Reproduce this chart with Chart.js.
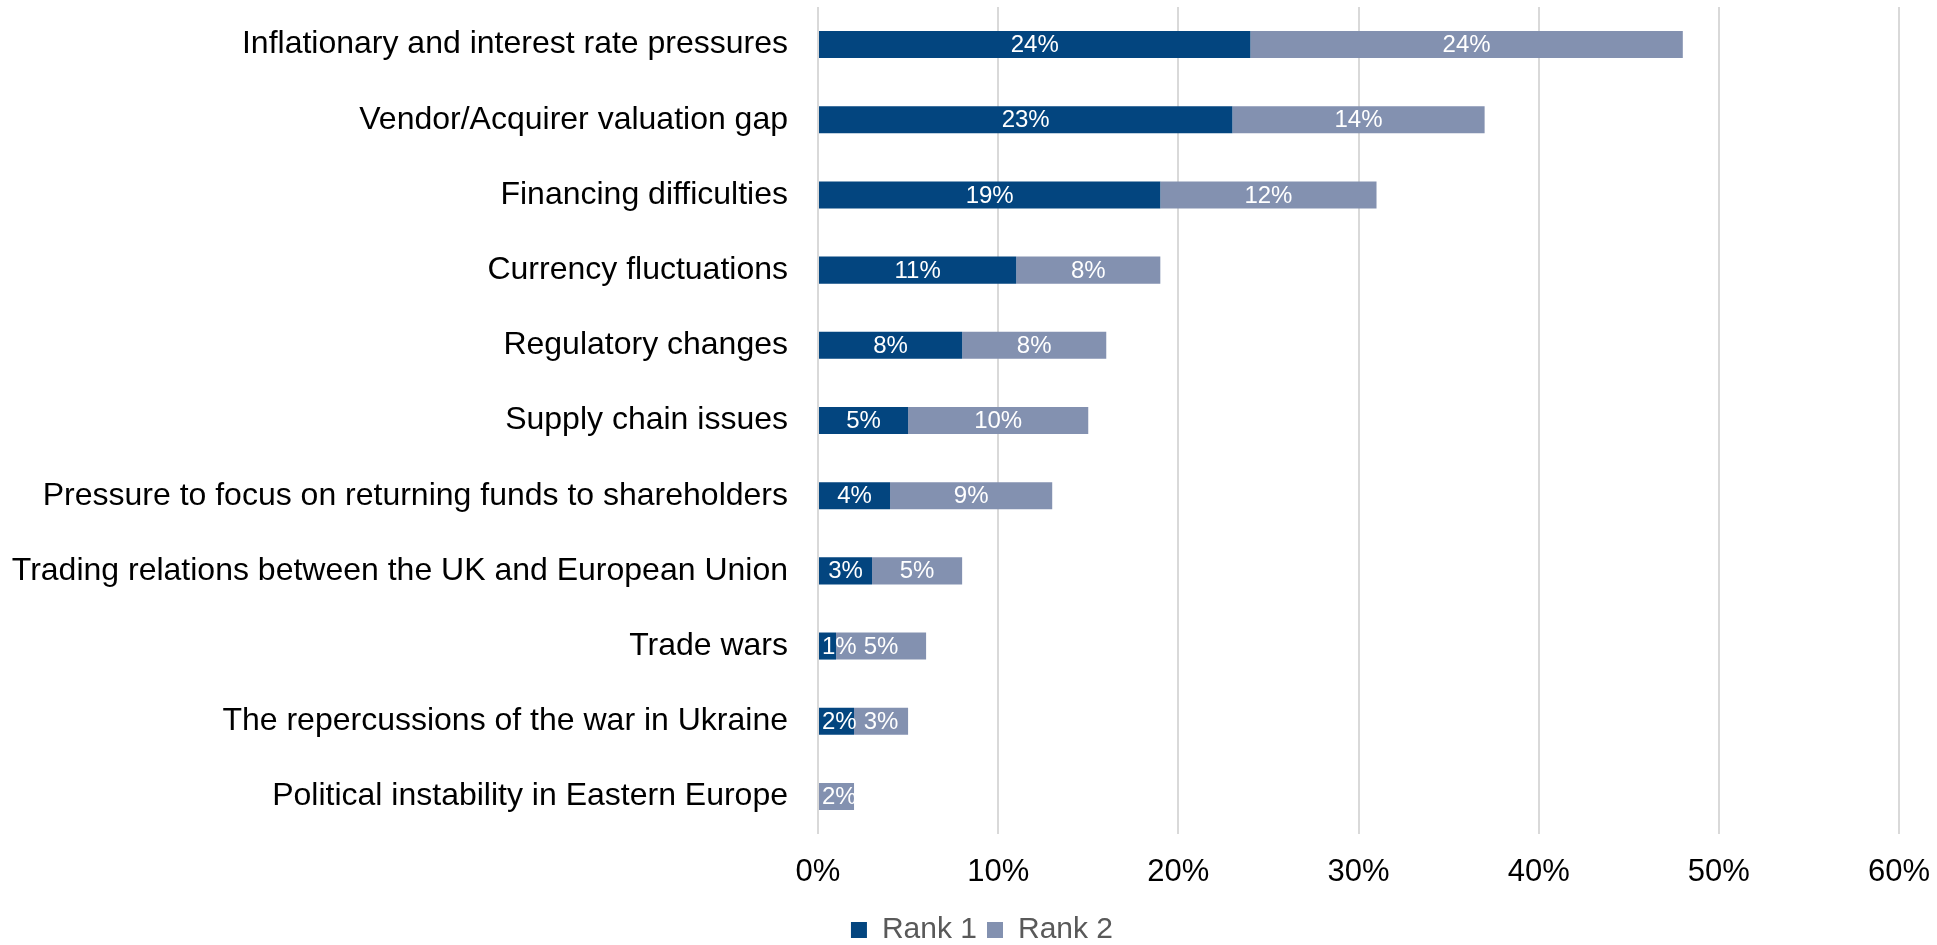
<!DOCTYPE html>
<html>
<head>
<meta charset="utf-8">
<script src="https://cdn.jsdelivr.net/npm/chart.js@4/dist/chart.umd.min.js"></script>
<style>
  html, body { margin: 0; padding: 0; background: #fff; }
</style>
</head>
<body>
<canvas id="myChart" width="1937" height="945"></canvas>
<script>
var categories = [
  'Inflationary and interest rate pressures',
  'Vendor/Acquirer valuation gap',
  'Financing difficulties',
  'Currency fluctuations',
  'Regulatory changes',
  'Supply chain issues',
  'Pressure to focus on returning funds to shareholders',
  'Trading relations between the UK and European Union',
  'Trade wars',
  'The repercussions of the war in Ukraine',
  'Political instability in Eastern Europe'
];
var rank1 = [24, 23, 19, 11, 8, 5, 4, 3, 1, 2, 0];
var rank2 = [24, 14, 12, 8, 8, 10, 9, 5, 5, 3, 2];
var xTicks = [0, 10, 20, 30, 40, 50, 60];

var FONT = '"Liberation Sans", Arial, sans-serif';

// white percentage labels in the middle of each bar segment
var barLabels = {
  id: 'barLabels',
  afterLayout: function(chart) {
    // nudge the legend a little right of the canvas centre
    chart.legend.left += 65;
  },
  afterDatasetsDraw: function(chart) {
    var ctx = chart.ctx;
    ctx.save();
    ctx.font = '24px ' + FONT;
    ctx.fillStyle = '#ffffff';
    ctx.textAlign = 'center';
    ctx.textBaseline = 'middle';
    chart.data.datasets.forEach(function(ds, i) {
      var meta = chart.getDatasetMeta(i);
      meta.data.forEach(function(bar, j) {
        var v = ds.data[j];
        if (!v) return;
        var p = bar.getProps(['x', 'y', 'base'], true);
        var text = v + '%';
        var w = ctx.measureText(text).width;
        var cx = (p.x + p.base) / 2;
        // keep short labels from spilling left of the axis
        var minX = chart.chartArea.left + 4 + w / 2;
        if (cx < minX) cx = minX;
        ctx.fillText(text, cx, p.y + 1);
      });
    });
    ctx.restore();
  }
};

var ctx = document.getElementById('myChart').getContext('2d');
var myChart = new Chart(ctx, {
  type: 'bar',
  data: {
    labels: categories,
    datasets: [{
      label: 'Rank 1',
      data: rank1,
      backgroundColor: '#03457f',
      barPercentage: 0.36,
      categoryPercentage: 1.0
    }, {
      label: 'Rank 2',
      data: rank2,
      backgroundColor: '#8391b0',
      barPercentage: 0.36,
      categoryPercentage: 1.0
    }]
  },
  options: {
    indexAxis: 'y',
    responsive: false,
    animation: false,
    layout: {
      padding: { top: 7, right: 38, left: 0, bottom: -10 }
    },
    plugins: {
      tooltip: { enabled: false },
      legend: {
        position: 'bottom',
        labels: {
          font: { family: FONT, size: 30 },
          color: '#595959',
          boxWidth: 16,
          boxHeight: 16,
          padding: 10
        }
      }
    },
    scales: {
      x: {
        stacked: true,
        min: 0,
        max: 60,
        afterBuildTicks: function(scale) {
          scale.ticks = xTicks.map(function(v) { return { value: v }; });
        },
        afterFit: function(scale) {
          scale.height = 71;
          scale.paddingLeft = 0;
          scale.paddingRight = 0;
        },
        ticks: {
          callback: function(value) { return value + '%'; },
          font: { family: FONT, size: 31 },
          color: '#000000',
          padding: 20,
          maxRotation: 0
        },
        grid: {
          color: '#d9d9d9',
          lineWidth: 2,
          drawTicks: false
        },
        border: { display: false }
      },
      y: {
        stacked: true,
        afterFit: function(scale) {
          scale.width = 818;
          scale.paddingTop = 0;
          scale.paddingBottom = 0;
        },
        ticks: {
          font: { family: FONT, size: 32 },
          color: '#000000',
          padding: 30,
          autoSkip: false
        },
        grid: { display: false, drawTicks: false },
        border: { display: false }
      }
    }
  },
  plugins: [barLabels]
});
</script>
</body>
</html>
